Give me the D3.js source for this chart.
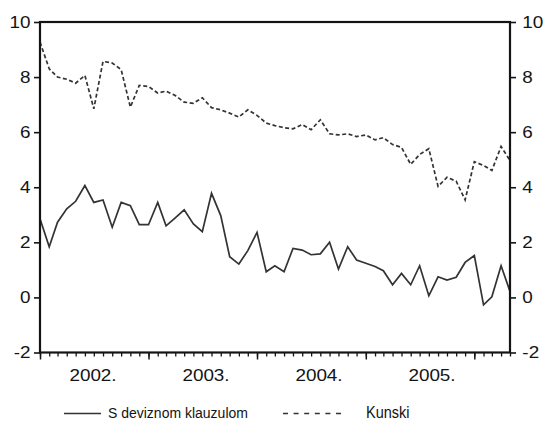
<!DOCTYPE html>
<html>
<head>
<meta charset="utf-8">
<script src="https://cdn.jsdelivr.net/npm/d3@7/dist/d3.min.js"></script>
<style>
  html, body { margin: 0; padding: 0; background: #fff; }
  svg { display: block; font-family: "Liberation Sans", Arial, sans-serif; }
</style>
</head>
<body>
<svg id="chart" width="544" height="423"></svg>
<script>
// Monthly observations, January 2002 – May 2006
const startMonth = new Date(2002, 0, 1);
const endMonth = new Date(2006, 4, 1);
const months = d3.timeMonth.range(startMonth, d3.timeMonth.offset(endMonth, 1));

// Loans with a foreign-currency clause (%)
const deviznaKlauzula = [
  2.86, 1.84, 2.73, 3.22, 3.49, 4.06, 3.45, 3.54, 2.55, 3.45, 3.33, 2.64,
  2.64, 3.45, 2.60, 2.89, 3.18, 2.67, 2.39, 3.78, 2.97, 1.48, 1.21, 1.70,
  2.36, 0.93, 1.15, 0.93, 1.78, 1.72, 1.55, 1.58, 2.00, 1.03, 1.84, 1.36,
  1.24, 1.12, 0.97, 0.46, 0.87, 0.46, 1.15, 0.06, 0.75, 0.63, 0.73, 1.27,
  1.52, -0.27, 0.02, 1.15, 0.22
];

// Kuna loans (%)
const kunski = [
  9.27, 8.30, 8.00, 7.92, 7.78, 8.06, 6.85, 8.57, 8.51, 8.27, 6.91, 7.70,
  7.66, 7.42, 7.49, 7.33, 7.09, 7.05, 7.25, 6.89, 6.81, 6.69, 6.55, 6.81,
  6.61, 6.33, 6.24, 6.16, 6.12, 6.28, 6.09, 6.45, 5.94, 5.90, 5.94, 5.84,
  5.90, 5.72, 5.80, 5.55, 5.45, 4.83, 5.19, 5.40, 4.03, 4.36, 4.22, 3.54,
  4.93, 4.79, 4.61, 5.48, 4.97
];

const yTicks = [-2, 0, 2, 4, 6, 8, 10];
const yearLabels = ["2002.", "2003.", "2004.", "2005."];
const seriesNames = ["S deviznom klauzulom", "Kunski"];

const svg = d3.select("#chart");
const plotLeft = 40, plotRight = 510, plotTop = 22, plotBottom = 352.5;
const ink = "#141414", lineInk = "#333333";
const stretch = "scale(1.18,1)"; // wide-set axis numerals

const x = d3.scaleTime().domain([startMonth, endMonth]).range([plotLeft, plotRight]);
const y = d3.scaleLinear().domain([-2, 10]).range([plotBottom, plotTop]);
// Year captions sit under the middle of each year
const xLabel = d3.scalePoint().domain(yearLabels).range([93, 432]);

const line = d3.line().x((d, i) => x(months[i])).y(d => y(d));

// Series
svg.append("path").datum(kunski)
  .attr("d", line).attr("fill", "none")
  .attr("stroke", lineInk).attr("stroke-width", 1.7)
  .attr("stroke-dasharray", "4,2.5");

svg.append("path").datum(deviznaKlauzula)
  .attr("d", line).attr("fill", "none")
  .attr("stroke", lineInk).attr("stroke-width", 1.7);

// Left and right value axes
const fmt = d => String(d).replace("\u2212", "-");
function styleAxis(g) {
  g.selectAll(".domain").remove();
  g.selectAll(".tick line").attr("stroke", ink).attr("stroke-width", 1.6);
  g.selectAll(".tick text").attr("fill", ink).attr("font-size", 16).attr("transform", stretch);
}

svg.append("g").attr("transform", `translate(${plotLeft},0)`)
  .call(d3.axisLeft(y).tickValues(yTicks).tickSize(6).tickPadding(2).tickFormat(fmt))
  .call(styleAxis);

svg.append("g").attr("transform", `translate(${plotRight},0)`)
  .call(d3.axisRight(y).tickValues(yTicks).tickSize(6).tickPadding(4.5).tickFormat(fmt))
  .call(styleAxis);

// Bottom time axis: monthly minor ticks, yearly major ticks
svg.append("g").attr("transform", `translate(0,${plotBottom})`)
  .call(d3.axisBottom(x).ticks(d3.timeMonth.every(1)).tickSize(4).tickFormat(""))
  .call(g => { g.selectAll(".domain").remove(); g.selectAll(".tick line").attr("stroke", ink).attr("stroke-width", 1.3); });

svg.append("g").attr("transform", `translate(0,${plotBottom})`)
  .call(d3.axisBottom(x).ticks(d3.timeYear.every(1)).tickSize(7).tickFormat(""))
  .call(g => { g.selectAll(".domain").remove(); g.selectAll(".tick line").attr("stroke", ink).attr("stroke-width", 1.5); });

svg.append("g").selectAll("text").data(yearLabels).join("text")
  .attr("transform", d => `translate(${xLabel(d)},381) ${stretch}`)
  .attr("text-anchor", "middle").attr("font-size", 16).attr("fill", ink)
  .text(d => d);

// Frame
svg.append("rect")
  .attr("x", plotLeft).attr("y", plotTop)
  .attr("width", plotRight - plotLeft).attr("height", plotBottom - plotTop)
  .attr("fill", "none").attr("stroke", ink).attr("stroke-width", 2.2);

// Legend
const legend = svg.append("g");
const legendY = 413.5;
legend.append("line").attr("x1", 64).attr("x2", 101).attr("y1", legendY).attr("y2", legendY)
  .attr("stroke", lineInk).attr("stroke-width", 1.6);
legend.append("text").attr("transform", "translate(108,418) scale(1,1.1)")
  .attr("font-size", 14).attr("fill", ink)
  .text(seriesNames[0]);
legend.append("line").attr("x1", 283).attr("x2", 341).attr("y1", legendY).attr("y2", legendY)
  .attr("stroke", lineInk).attr("stroke-width", 1.6).attr("stroke-dasharray", "5,5.6");
legend.append("text").attr("transform", "translate(366,418) scale(1,1.1)")
  .attr("font-size", 14.5).attr("fill", ink)
  .text(seriesNames[1]);
</script>
</body>
</html>
